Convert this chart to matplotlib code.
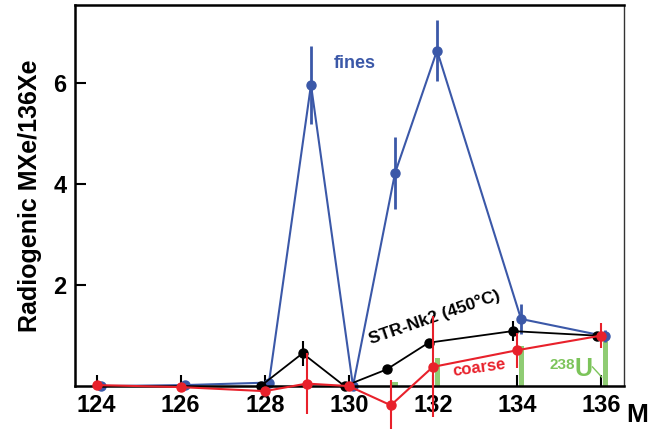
import numpy as np
import matplotlib.pyplot as plt

plt.rcParams['font.family'] = ['Liberation Sans', 'DejaVu Sans']
plt.rcParams['font.weight'] = 'bold'

# fines (blue)
fines_x = [124.1, 126.1, 128.1, 129.1, 130.1, 131.1, 132.1, 134.1, 136.1]
fines_y = [0.0, 0.02, 0.07, 5.97, 0.0, 4.22, 6.65, 1.33, 0.99]
fines_err = [0.0, 0.0, 0.0, 0.78, 0.0, 0.72, 0.6, 0.3, 0.12]

# STR-Nk2 (450°C) (black)
nk2_x = [127.9, 128.9, 129.9, 130.9, 131.9, 133.9, 135.9]
nk2_y = [0.0, 0.65, 0.0, 0.33, 0.86, 1.09, 1.0]
nk2_err = [0.0, 0.25, 0.08, 0.0, 0.0, 0.2, 0.0]

# coarse (red)
coarse_x = [124.0, 126.0, 128.0, 129.0, 130.0, 131.0, 132.0, 134.0, 136.0]
coarse_y = [0.02, -0.02, -0.1, 0.05, 0.0, -0.38, 0.38, 0.71, 1.0]
coarse_err = [0.0, 0.0, 0.0, 0.6, 0.0, 0.5, 1.0, 0.35, 0.25]

# 238U bars (green)
u_x = [131.1, 132.1, 134.1, 136.1]
u_y = [0.08, 0.55, 0.8, 0.95]

blue = '#3b58a8'
red = '#e8212b'
green = '#7cc45a'

fig = plt.figure(figsize=(6.51, 4.29), dpi=100)
ax = fig.add_axes([0.115, 0.1, 0.8435, 0.888])

ax.bar(u_x, u_y, width=0.12, color=green, alpha=0.85, zorder=1)

ax.errorbar(fines_x, fines_y, yerr=fines_err, color=blue, marker='o', ms=6.5,
            lw=1.5, elinewidth=2, capsize=0, zorder=2, clip_on=False)
ax.errorbar(nk2_x, nk2_y, yerr=nk2_err, color='black', marker='o', ms=6.5,
            lw=1.3, elinewidth=1.5, capsize=0, zorder=3, clip_on=False)
ax.errorbar(coarse_x, coarse_y, yerr=coarse_err, color=red, marker='o', ms=6.5,
            lw=1.5, elinewidth=1.5, capsize=0, zorder=4, clip_on=False)

ax.set_xlim(123.48, 136.55)
ax.set_ylim(0, 7.55)
ax.set_xticks([124, 126, 128, 130, 132, 134, 136])
ax.set_yticks([2, 4, 6])
ax.tick_params(direction='in', length=8, width=1.5, labelsize=17, pad=6)
for lab in ax.get_xticklabels() + ax.get_yticklabels():
    lab.set_fontweight('bold')
for s in ax.spines.values():
    s.set_linewidth(1.8)
ax.spines['right'].set_linewidth(1.0)
ax.spines['right'].set_color('#333333')

ax.set_ylabel('Radiogenic MXe/136Xe', fontsize=18, fontweight='bold', labelpad=8)
ax.text(1.005, -0.045, 'M', transform=ax.transAxes, fontsize=19,
        fontweight='bold', ha='left', va='top')

ax.text(130.15, 6.4, 'fines', color=blue, fontsize=13, fontweight='bold',
        ha='center', va='center')
ax.text(132.05, 1.37, 'STR-Nk2 (450°C)', color='black', fontsize=12.5,
        fontweight='bold', ha='center', va='center', rotation=19)
ax.text(133.1, 0.36, 'coarse', color=red, fontsize=12, fontweight='bold',
        ha='center', va='center', rotation=8)
ax.text(135.38, 0.42, '238', color=green, fontsize=11, fontweight='bold',
        ha='right', va='center')
ax.text(135.38, 0.33, 'U', color=green, fontsize=18, fontweight='bold',
        ha='left', va='center')
ax.plot([135.8, 136.02], [0.38, 0.18], color=green, lw=1)

fig.savefig('out.png', dpi=100)
